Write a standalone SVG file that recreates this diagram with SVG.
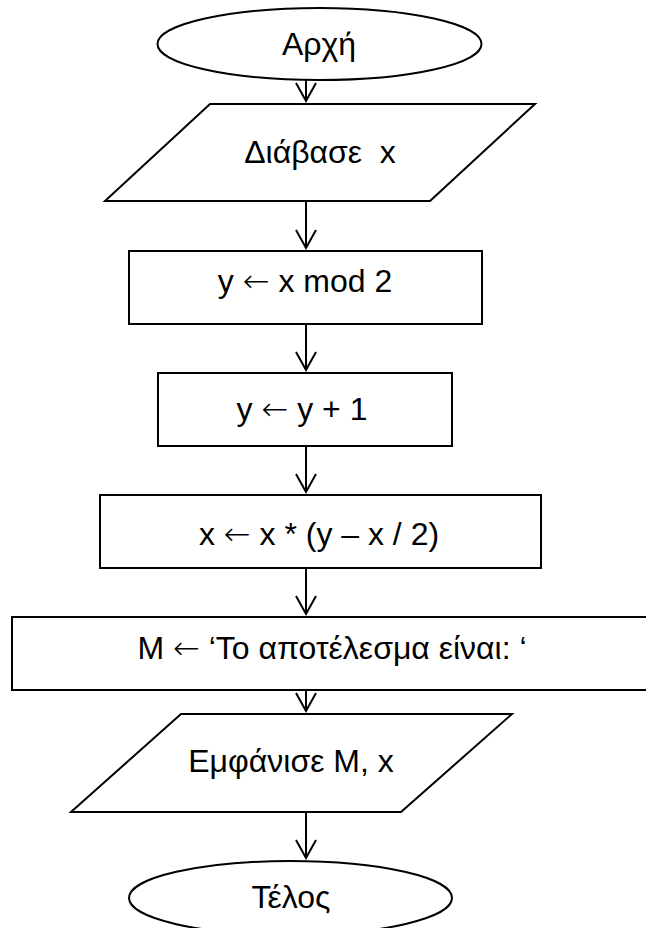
<svg xmlns="http://www.w3.org/2000/svg" width="646" height="928" viewBox="0 0 646 928">
  <style>
    .shape { fill: #fff; stroke: #000; stroke-width: 2; }
    .lbl { font-family: "Liberation Sans", Arial, sans-serif; font-size: 32px; fill: #000; text-anchor: middle; white-space: pre; }
    .ar { font-family: "DejaVu Sans", sans-serif; font-size: 32px; font-weight: 200; }
    .conn { stroke: #000; stroke-width: 2; fill: none; }
  </style>
  <defs>
    <marker id="arr" markerUnits="userSpaceOnUse" markerWidth="40" markerHeight="40" refX="0" refY="0" orient="auto" overflow="visible">
      <path d="M -18,-10 L 0,0 L -18,10" fill="none" stroke="#000" stroke-width="2"/>
    </marker>
  </defs>
  <rect width="646" height="928" fill="#fff"/>

  <g id="start">
    <ellipse class="shape" cx="319.5" cy="44" rx="162" ry="36"/>
    <text class="lbl" x="319" y="55">Αρχή</text>
  </g>
  <g id="read">
    <polygon class="shape" points="210,104 535,104 430,201 105,201"/>
    <text class="lbl" x="320" y="163">Διάβασε  x</text>
  </g>
  <g id="assign1">
    <rect class="shape" x="129" y="251" width="353" height="73"/>
    <text class="lbl" x="305" y="292">y <tspan class="ar">←</tspan> x mod 2</text>
  </g>
  <g id="assign2">
    <rect class="shape" x="158" y="373" width="294" height="73"/>
    <text class="lbl" x="302" y="420">y <tspan class="ar">←</tspan> y + 1</text>
  </g>
  <g id="assign3">
    <rect class="shape" x="100" y="495" width="441" height="73"/>
    <text class="lbl" x="319" y="545">x <tspan class="ar">←</tspan> x * (y – x / 2)</text>
  </g>
  <g id="assign4">
    <rect class="shape" x="12" y="617" width="650" height="73"/>
    <text class="lbl" x="332" y="659">M <tspan class="ar">←</tspan> ‘Το αποτέλεσμα είναι: ‘</text>
  </g>
  <g id="output">
    <polygon class="shape" points="181,714 512,714 401,812 71,812"/>
    <text class="lbl" x="291" y="772">Εμφάνισε M, x</text>
  </g>
  <g id="end">
    <ellipse class="shape" cx="290.5" cy="898" rx="161.5" ry="37"/>
    <text class="lbl" x="291" y="908">Τέλος</text>
  </g>

  <g id="connectors">
    <line class="conn" x1="306" y1="80" x2="306" y2="101" marker-end="url(#arr)"/>
    <line class="conn" x1="306" y1="201" x2="306" y2="248" marker-end="url(#arr)"/>
    <line class="conn" x1="306" y1="324" x2="306" y2="370" marker-end="url(#arr)"/>
    <line class="conn" x1="306" y1="446" x2="306" y2="492" marker-end="url(#arr)"/>
    <line class="conn" x1="306" y1="568" x2="306" y2="614" marker-end="url(#arr)"/>
    <line class="conn" x1="306" y1="690" x2="306" y2="711" marker-end="url(#arr)"/>
    <line class="conn" x1="306" y1="812" x2="306" y2="858" marker-end="url(#arr)"/>
  </g>
</svg>
